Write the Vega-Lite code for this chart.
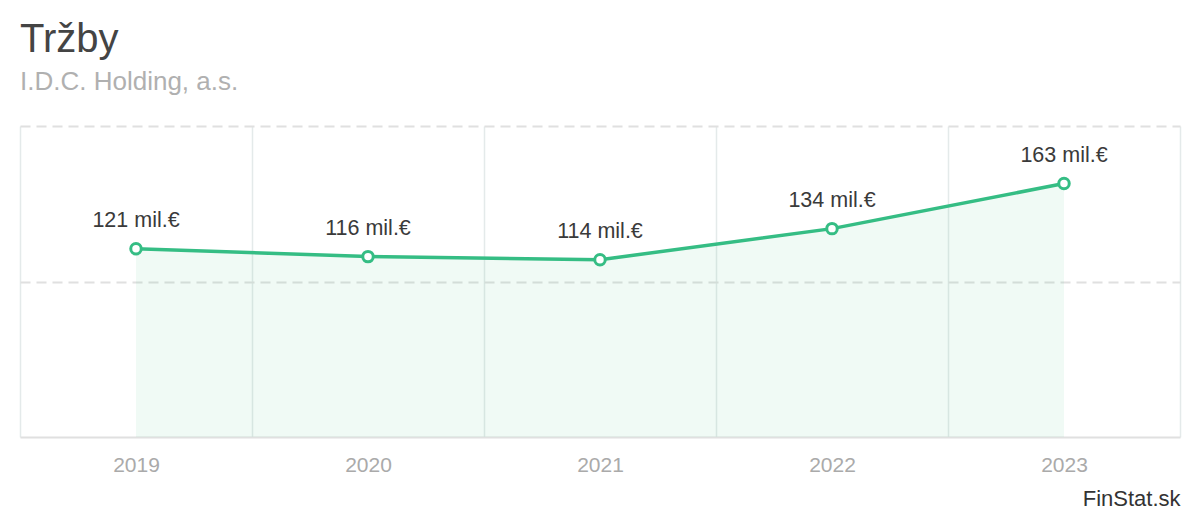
{
  "$schema": "https://vega.github.io/schema/vega-lite/v6.json",
  "width": 1160,
  "height": 311,
  "autosize": {"type": "none"},
  "padding": {"left": 20, "top": 126, "right": 20, "bottom": 83},
  "background": "white",
  "config": {
    "font": "Liberation Sans",
    "view": {"stroke": null}
  },
  "title": {
    "text": "Tržby",
    "subtitle": "I.D.C. Holding, a.s.",
    "anchor": "start",
    "frame": "group",
    "fontSize": 40,
    "fontWeight": "normal",
    "color": "#444444",
    "subtitleFontSize": 26,
    "subtitleColor": "#b0b0b0",
    "subtitlePadding": 9,
    "offset": 31
  },
  "data": {
    "values": [
      {"rok": "2019", "trzby": 121, "label": "121 mil.€"},
      {"rok": "2020", "trzby": 116, "label": "116 mil.€"},
      {"rok": "2021", "trzby": 114, "label": "114 mil.€"},
      {"rok": "2022", "trzby": 134, "label": "134 mil.€"},
      {"rok": "2023", "trzby": 163, "label": "163 mil.€"}
    ]
  },
  "encoding": {
    "x": {
      "field": "rok",
      "type": "ordinal",
      "bandPosition": 0.5,
      "scale": {"type": "band", "paddingInner": 0, "paddingOuter": 0},
      "axis": {
        "title": "FinStat.sk",
        "titleAnchor": "end",
        "titleAlign": "right",
        "titleFontSize": 22,
        "titleFontWeight": "normal",
        "titleColor": "#333333",
        "titlePadding": 13,
        "labelAngle": 0,
        "labelFontSize": 21,
        "labelColor": "#aaaaaa",
        "labelPadding": 17,
        "ticks": false,
        "tickBand": "extent",
        "grid": true,
        "gridColor": "#e4eaea",
        "gridWidth": 1.5,
        "domainColor": "#e0e0e0",
        "domainWidth": 2
      }
    },
    "y": {
      "field": "trzby",
      "type": "quantitative",
      "scale": {"domain": [0, 200], "nice": false},
      "axis": {
        "title": null,
        "labels": false,
        "ticks": false,
        "domain": false,
        "values": [100, 200],
        "grid": true,
        "gridColor": "#e0e0e0",
        "gridWidth": 2,
        "gridDash": [10, 6]
      }
    }
  },
  "layer": [
    {"mark": {"type": "area", "color": "#3cbf85", "opacity": 0.08}},
    {"mark": {"type": "line", "color": "#35bd84", "strokeWidth": 3.5}},
    {"mark": {"type": "point", "shape": "circle", "filled": true, "fill": "white", "stroke": "#35bd84", "strokeWidth": 3, "size": 110, "opacity": 1}},
    {
      "mark": {"type": "text", "dy": -22, "baseline": "alphabetic", "fontSize": 21.5, "color": "#3a3a3a"},
      "encoding": {"text": {"field": "label"}}
    }
  ]
}
